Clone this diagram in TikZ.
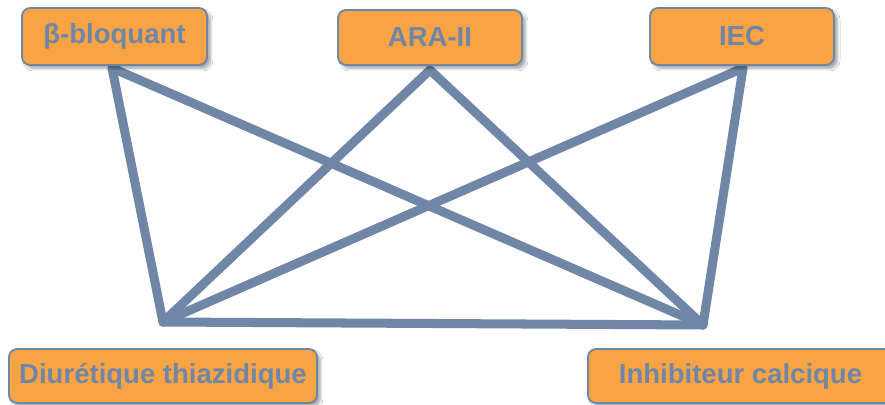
\documentclass[tikz,border=0pt]{standalone}
\usepackage{fontspec}
\setmainfont{Liberation Sans}
\usetikzlibrary{shadows.blur}
\definecolor{boxfill}{RGB}{249,164,68}
\definecolor{slate}{RGB}{111,134,166}
\begin{document}
\begin{tikzpicture}[x=0.03cm,y=-0.03cm,
  drug/.style={draw=slate, line width=1.6pt, fill=boxfill, rounded corners=7pt,
    inner sep=0pt, text=slate, font=\fontsize{23.5}{28}\selectfont\bfseries,
    blur shadow={shadow blur steps=8, shadow xshift=3pt, shadow yshift=-3pt, shadow opacity=35}},
  link/.style={draw=slate, line width=7.7pt, line cap=round, line join=round}]
  \useasboundingbox[fill=white] (0,0) rectangle (885,405);
  % junction points of the connector web
  \coordinate (A) at (112,68);
  \coordinate (B) at (430,70);
  \coordinate (C) at (743,68);
  \coordinate (D) at (163,322);
  \coordinate (E) at (703,325);
  % connectors
  \draw[link] (A) -- (D);
  \draw[link] (A) -- (E);
  \draw[link] (B) -- (D);
  \draw[link] (B) -- (E);
  \draw[link] (C) -- (D);
  \draw[link] (C) -- (E);
  \draw[link] (D) -- (E);
  % drug class boxes
  \node[drug, minimum width=185*0.03cm, minimum height=57*0.03cm] (beta) at (114.5,36.5) {β-bloquant};
  \node[drug, minimum width=184*0.03cm, minimum height=55*0.03cm] (ara) at (430,37.5) {ARA-II};
  \node[drug, minimum width=184*0.03cm, minimum height=57*0.03cm] (iec) at (742,36.5) {IEC};
  \node[drug, minimum width=308*0.03cm, minimum height=54*0.03cm] (diur) at (163,376) {Diurétique thiazidique};
  \node[drug, minimum width=305*0.03cm, minimum height=54*0.03cm] (inhib) at (740.5,376) {Inhibiteur calcique};
\end{tikzpicture}
\end{document}
